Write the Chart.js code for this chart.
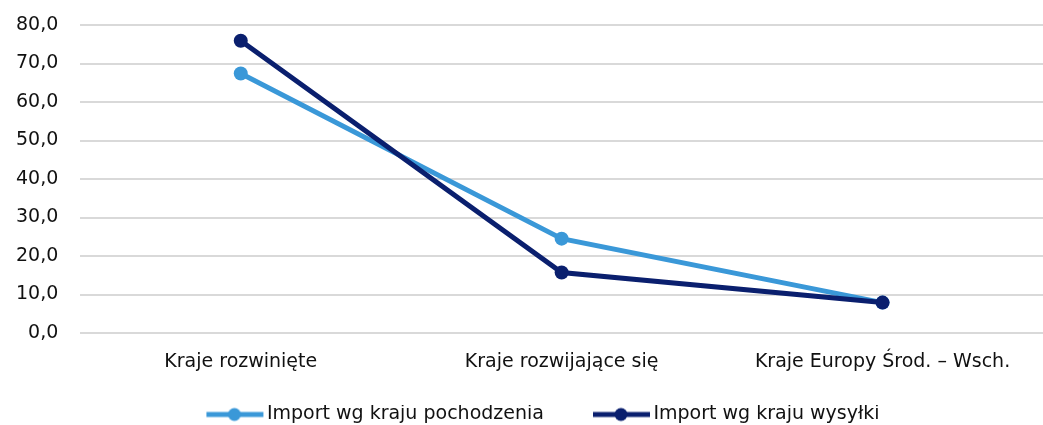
<!DOCTYPE html>
<html>
<head>
<meta charset="utf-8">
<script src="https://cdn.jsdelivr.net/npm/chart.js@4.4.1/dist/chart.umd.min.js"></script>
<style>
  body { margin: 0; background: #fff; }
  #wrap { width: 1043px; height: 425px; position: relative; }
</style>
</head>
<body>
<div id="wrap"><canvas id="wykres"></canvas></div>
<script>
// dane
const kategorie = ["Kraje rozwinięte", "Kraje rozwijające się", "Kraje Europy Środ. – Wsch."];
const importPochodzenie = [67.4, 24.5, 7.9];
const importWysylka = [75.9, 15.7, 7.9];

const jasny = "#3a98d8";
const ciemny = "#0a1f6e";

// znaczek legendy: pusty margines z lewej, linia z kropką z prawej
const SZER_ZNACZKA = 100;
function znaczek(kolor) {
    const c = document.createElement("canvas");
    c.width = SZER_ZNACZKA + 14;
    c.height = 16;
    const ctx = c.getContext("2d");
    ctx.strokeStyle = kolor;
    ctx.lineWidth = 5;
    ctx.beginPath();
    ctx.moveTo(c.width - 58, 8);
    ctx.lineTo(c.width - 1, 8);
    ctx.stroke();
    ctx.fillStyle = kolor;
    ctx.beginPath();
    ctx.arc(c.width - 30, 8, 6.5, 0, Math.PI * 2);
    ctx.fill();
    return c;
}

Chart.defaults.font.family = "'DejaVu Sans', sans-serif";
Chart.defaults.font.size = 19;
Chart.defaults.color = "#111";

const dane = {
    labels: kategorie,
    datasets: [
        {
            label: "Import wg kraju pochodzenia",
            data: importPochodzenie,
            borderColor: jasny,
            backgroundColor: jasny,
            borderWidth: 5,
            pointRadius: 7,
            pointBorderWidth: 0,
            pointHoverRadius: 7,
            pointStyle: "circle",
            order: 2,
        },
        {
            label: "Import wg kraju wysyłki",
            data: importWysylka,
            borderColor: ciemny,
            backgroundColor: ciemny,
            borderWidth: 5,
            pointRadius: 7,
            pointBorderWidth: 0,
            pointHoverRadius: 7,
            pointStyle: "circle",
            order: 1,
        },
    ],
};

const config = {
    type: "line",
    data: dane,
    options: {
        responsive: true,
        maintainAspectRatio: false,
        animation: false,
        layout: { autoPadding: false, padding: { left: -6, right: 0, top: 0, bottom: -9 } },
        scales: {
            x: {
                offset: true,
                grid: { display: false },
                border: { display: false },
                ticks: { padding: 10, color: "#111" },
                afterFit: (s) => {
                    s.height = 72;
                    s.paddingLeft = 0;
                    s.paddingRight = 0;
                },
            },
            y: {
                min: 0,
                max: 80,
                grid: { color: "#d9d9d9", lineWidth: 2, drawTicks: false },
                border: { display: false },
                ticks: {
                    stepSize: 10,
                    padding: 22,
                    color: "#111",
                    callback: (v) => v.toFixed(1).replace(".", ","),
                },
                afterFit: (s) => {
                    s.paddingTop = 25;
                    s.paddingBottom = 0;
                },
            },
        },
        plugins: {
            tooltip: { enabled: false },
            legend: {
                position: "bottom",
                labels: {
                    usePointStyle: true,
                    pointStyleWidth: SZER_ZNACZKA,
                    padding: 0,
                    boxHeight: 16,
                    color: "#111",
                    sort: (a, b) => a.datasetIndex - b.datasetIndex,
                    generateLabels: (chart) => {
                        const etykiety = Chart.defaults.plugins.legend.labels.generateLabels(chart);
                        etykiety.forEach((e) => {
                            e.pointStyle = znaczek(chart.data.datasets[e.datasetIndex].borderColor);
                            e.lineWidth = 0;
                        });
                        return etykiety;
                    },
                },
            },
        },
    },
};

var wykres = new Chart(document.getElementById("wykres"), config);
</script>
</body>
</html>
